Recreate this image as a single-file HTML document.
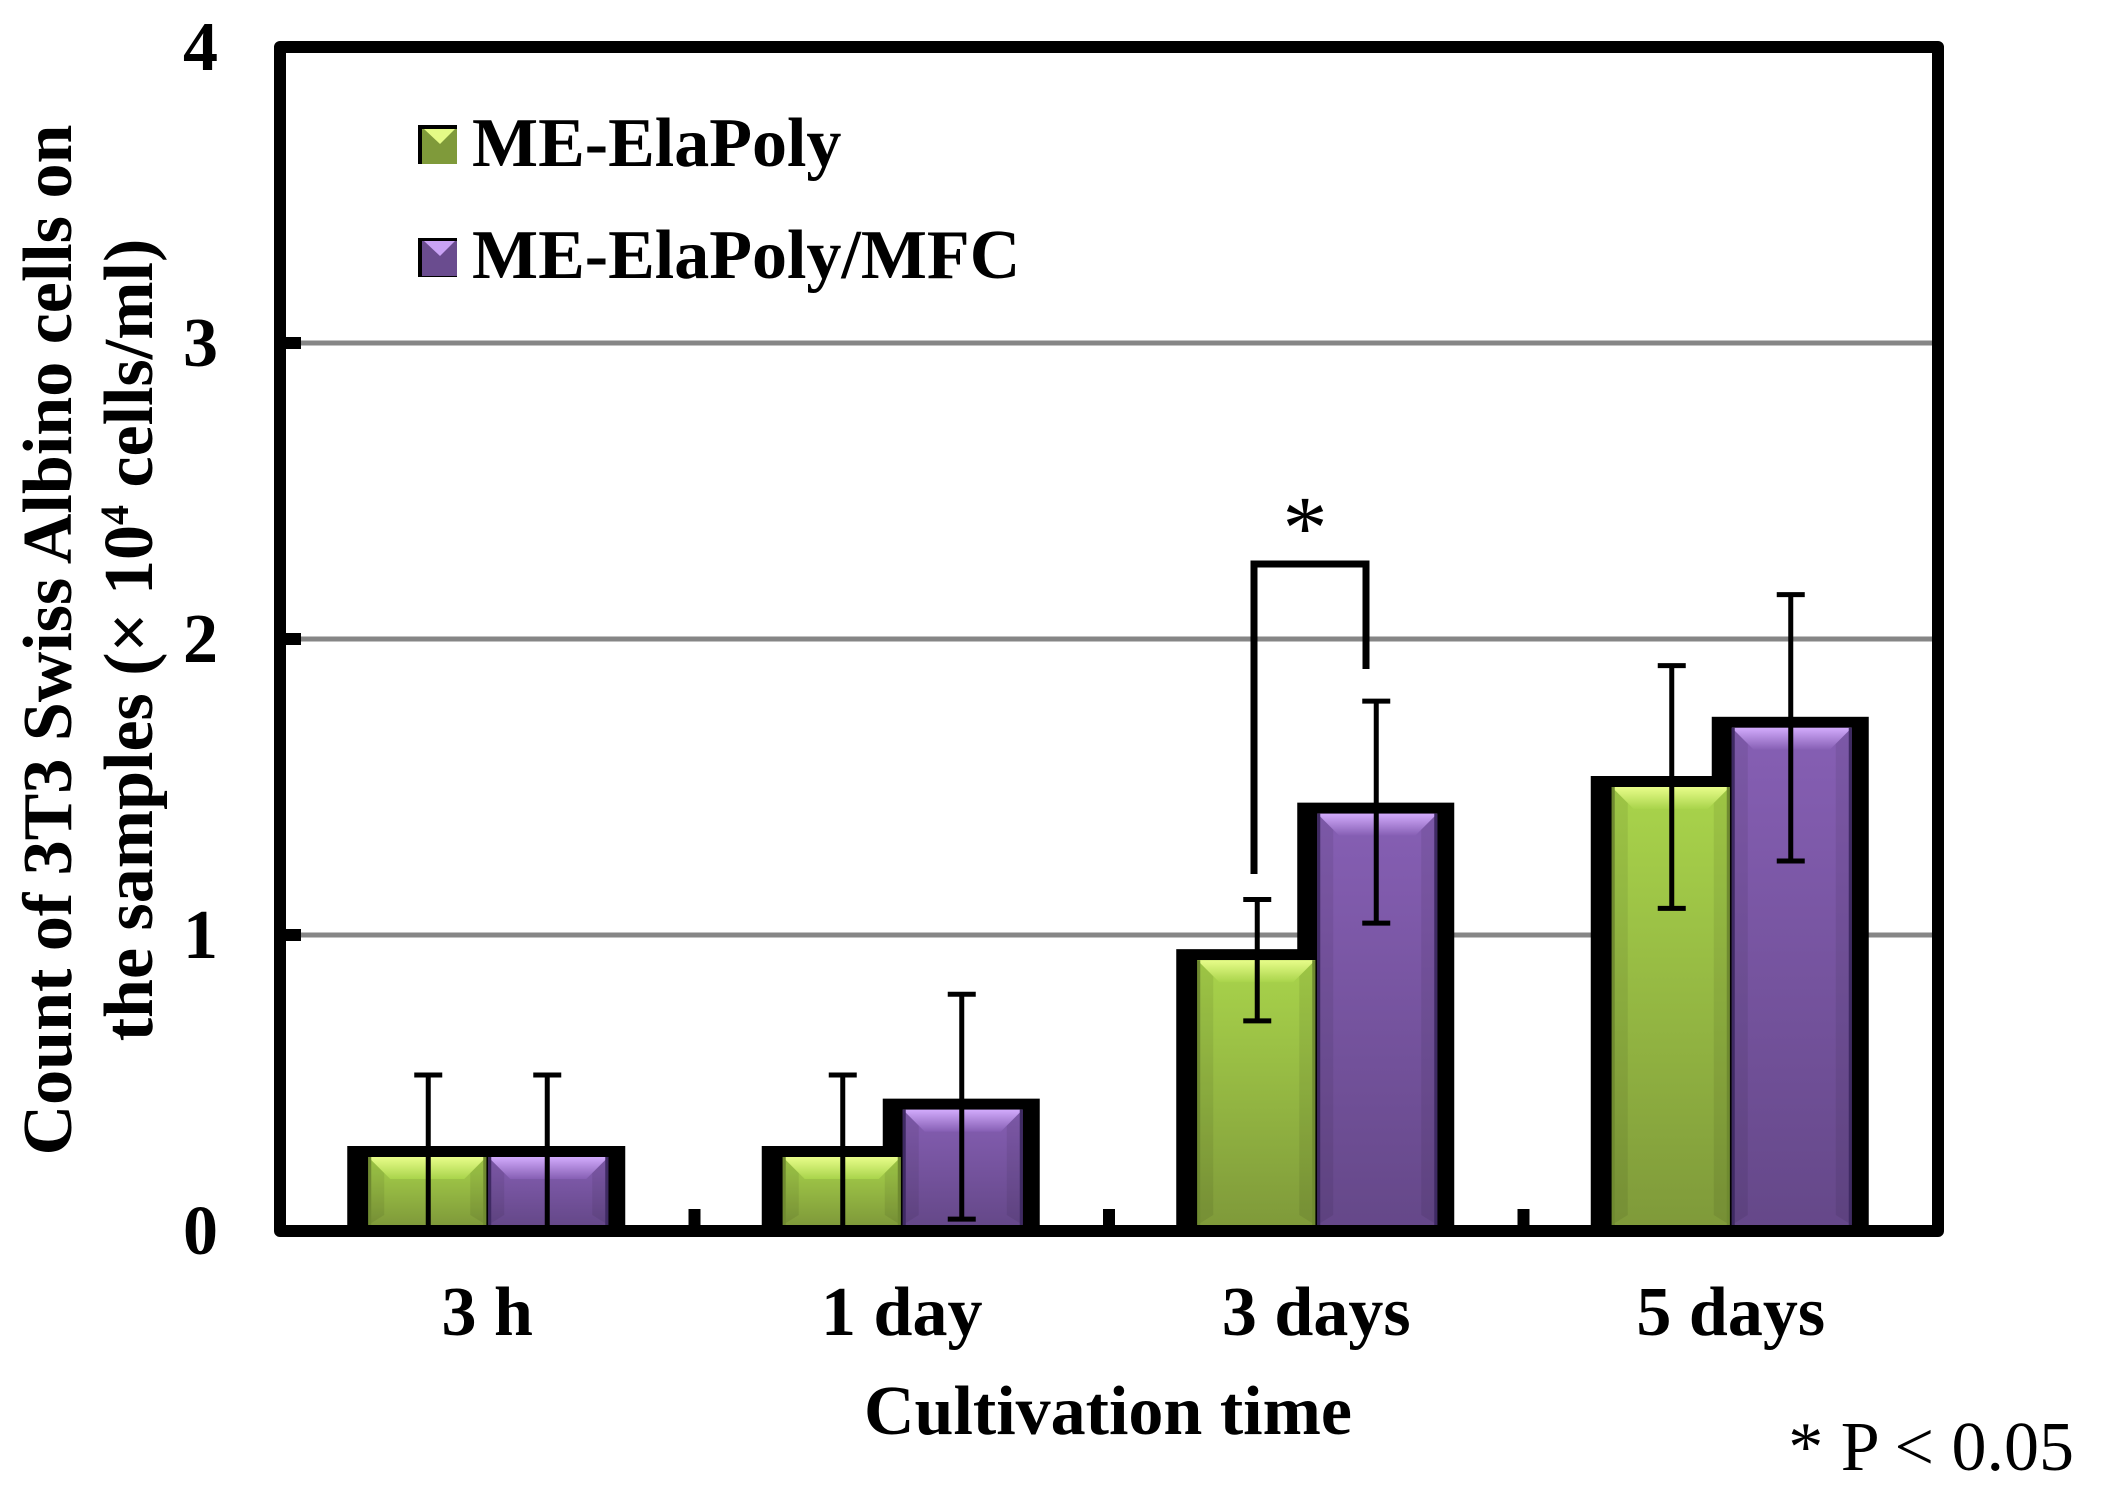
<!DOCTYPE html>
<html lang="en">
<head>
<meta charset="utf-8">
<title>Count of 3T3 Swiss Albino cells</title>
<style>
html,body{margin:0;padding:0;background:#fff}
#wrap{width:2106px;height:1506px;position:relative;overflow:hidden}
svg{display:block}
text{font-family:"Liberation Serif",serif;font-weight:bold;fill:#000}
</style>
</head>
<body>
<div id="wrap">
<svg id="chart" xmlns="http://www.w3.org/2000/svg" width="2106" height="1506" viewBox="0 0 2106 1506">
<defs>
<linearGradient id="gGreen" x1="0" y1="0" x2="0" y2="1"><stop offset="0" stop-color="#a9d44b"/><stop offset="1" stop-color="#7f9a3a"/></linearGradient>
<linearGradient id="gPurple" x1="0" y1="0" x2="0" y2="1"><stop offset="0" stop-color="#865fb4"/><stop offset="1" stop-color="#654889"/></linearGradient>
<linearGradient id="gGreenTop" x1="0" y1="0" x2="0" y2="1"><stop offset="0" stop-color="#e8fd8a"/><stop offset="1" stop-color="#a9d44b"/></linearGradient>
<linearGradient id="gPurpleTop" x1="0" y1="0" x2="0" y2="1"><stop offset="0" stop-color="#d2abfc"/><stop offset="1" stop-color="#865fb4"/></linearGradient>
</defs>
<g id="grid"></g>
<g id="barBacks"></g>
<g id="bars"></g>
<g id="errors"></g>
<g id="axes"></g>
<g>
<path d="M1254 874V564H1366V669" fill="none" stroke="#000" stroke-width="7"/>
<text x="1305" y="558" font-size="90" text-anchor="middle" style="font-weight:normal">*</text>
</g>
<g>
<rect x="418" y="125" width="39" height="39" fill="#000"/>
<rect x="422" y="129" width="35" height="35" fill="#7f9a3a"/>
<polygon points="424,129 455,129 440,144" fill="#e4fb86"/>
<text x="472" y="166" font-size="70">ME-ElaPoly</text>
<rect x="418" y="238" width="39" height="39" fill="#000"/>
<rect x="422" y="241" width="35" height="35" fill="#6a4c8f"/>
<polygon points="424,241 455,241 440,256" fill="#c9a2f5"/>
<text x="472" y="278" font-size="70">ME-ElaPoly/MFC</text>
</g>
<g>
<text transform="translate(71,640) rotate(-90)" font-size="70" text-anchor="middle">Count of 3T3 Swiss Albino cells on</text>
<text transform="translate(152,640) rotate(-90)" font-size="70" text-anchor="middle">the samples (× 10<tspan font-size="40" dy="-24">4</tspan><tspan dy="24"> cells/ml)</tspan></text>
</g>
<text x="1108" y="1434" font-size="70" text-anchor="middle">Cultivation time</text>
<text x="2074" y="1470" font-size="70" text-anchor="end" style="font-weight:normal">* P &lt; 0.05</text>
</svg>
</div>
<script>
const categories = ['3 h', '1 day', '3 days', '5 days'];
const elaPoly = [0.25, 0.25, 0.915, 1.50];
const elaPolyMfc = [0.25, 0.41, 1.41, 1.70];
const elaPolyErrTop = [0.527, 0.527, 1.12, 1.91];
const elaPolyErrBottom = [0, 0, 0.71, 1.09];
const elaPolyMfcErrTop = [0.527, 0.80, 1.79, 2.15];
const elaPolyMfcErrBottom = [0, 0.04, 1.04, 1.25];
const yTicks = [0, 1, 2, 3, 4];

const SVGNS = 'http://www.w3.org/2000/svg';
const plot = {left: 280, right: 1938};
const yScale = v => 1231 - v * 296;
const band = (plot.right - plot.left) / categories.length;
const xCenter = i => plot.left + 1 + band * (i + 0.5);

function make(tag, attrs, parent, text) {
  const el = document.createElementNS(SVGNS, tag);
  for (const k in attrs) el.setAttribute(k, attrs[k]);
  if (text !== undefined) el.textContent = text;
  parent.appendChild(el);
  return el;
}

const gridG = document.getElementById('grid');
const backsG = document.getElementById('barBacks');
const barsG = document.getElementById('bars');
const errG = document.getElementById('errors');
const axesG = document.getElementById('axes');

yTicks.forEach(v => {
  if (v > 0 && v < 4) {
    const line = make('line', {x1: 286, x2: plot.right - 5, y1: yScale(v), y2: yScale(v), stroke: '#868686', 'stroke-width': 5}, gridG);
    
    
  }
});

function drawBar(x, w, value, kind, backX, backW, label) {
  const top = yScale(value);
  const bottom = 1225;
  const h = bottom - top;
  const back = make('rect', {x: backX, y: top - 11, width: backW, height: h + 11, fill: '#000'}, backsG);
  
  
  const body = make('rect', {x: x, y: top, width: w, height: h, fill: 'url(#g' + kind + ')'}, barsG);
  
  
  const shade = make('polygon', {points: [x, top, x + 16, top + 16, x + 16, bottom - 10, x, bottom].join(' '), fill: '#000', 'fill-opacity': 0.07}, barsG);
  
  
  const shade2 = make('polygon', {points: [x + w, top, x + w - 16, top + 16, x + w - 16, bottom - 10, x + w, bottom].join(' '), fill: '#000', 'fill-opacity': 0.07}, barsG);
  
  
  const bevel = make('polygon', {points: [x, top, x + w, top, x + w - 22, top + 22, x + 22, top + 22].join(' '), fill: 'url(#g' + kind + 'Top)'}, barsG);
  
  
  const edge = kind === 'Green' ? '#6f8a30' : '#3f2a63';
  const left = make('rect', {x: x, y: top, width: 3, height: h, fill: edge}, barsG);
  
  
  const right = make('rect', {x: x + w - 3, y: top, width: 3, height: h, fill: edge}, barsG);
  
  
}

function drawError(x, hi, lo, label) {
  const stem = make('line', {x1: x, x2: x, y1: yScale(hi), y2: yScale(lo), stroke: '#000', 'stroke-width': 5}, errG);
  
  
  const capTop = make('line', {x1: x - 14, x2: x + 14, y1: yScale(hi), y2: yScale(hi), stroke: '#000', 'stroke-width': 5}, errG);
  
  
  if (lo > 0) {
    const capBottom = make('line', {x1: x - 14, x2: x + 14, y1: yScale(lo), y2: yScale(lo), stroke: '#000', 'stroke-width': 5}, errG);
    
    
  }
}

categories.forEach((cat, i) => {
  const c = xCenter(i);
  const slug = cat.replace(/\s+/g, '-');
  drawBar(c - 120, 118, elaPoly[i], 'Green', c - 141, 145, 'me-elapoly-' + slug);
  drawBar(c, 120, elaPolyMfc[i], 'Purple', c - 20, 157, 'me-elapoly-mfc-' + slug);
  drawError(c - 60, elaPolyErrTop[i], elaPolyErrBottom[i], 'me-elapoly-' + slug);
  drawError(c + 59, elaPolyMfcErrTop[i], elaPolyMfcErrBottom[i], 'me-elapoly-mfc-' + slug);
  const label = make('text', {x: c - 1, y: 1335, 'font-size': 70, 'text-anchor': 'middle'}, axesG, cat);
  
  
  if (i > 0) {
    const tick = make('rect', {x: plot.left + band * i - 6, y: 1209, width: 12, height: 18, fill: '#000'}, axesG);
    
    
  }
});

yTicks.forEach(v => {
  const label = make('text', {x: 218, y: yScale(v) + 23, 'font-size': 70, 'text-anchor': 'end'}, axesG, String(v));
  
  
  if (v > 0 && v < 4) {
    const tick = make('rect', {x: 284, y: yScale(v) - 6, width: 17, height: 12, fill: '#000'}, axesG);
    
    
  }
});

const frame = make('rect', {x: plot.left, y: yScale(4), width: plot.right - plot.left, height: yScale(0) - yScale(4), fill: 'none', stroke: '#000', 'stroke-width': 12, 'stroke-linejoin': 'round'}, axesG);


</script>
</body>
</html>
